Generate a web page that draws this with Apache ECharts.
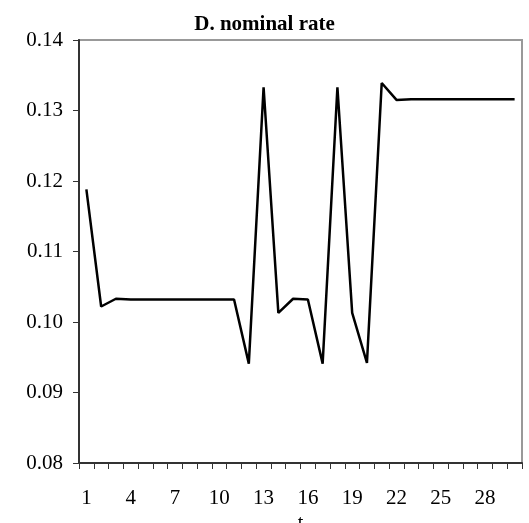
<!DOCTYPE html>
<html>
<head>
<meta charset="utf-8">
<script src="https://cdn.jsdelivr.net/npm/echarts@6/dist/echarts.min.js"></script>
<style>
  html, body { margin: 0; padding: 0; background: #fff; }
  #chart { width: 529px; height: 523px; }
</style>
</head>
<body>
<div id="chart"></div>
<script>
// Periods t = 1..30
const periods = Array.from({ length: 30 }, (_, i) => String(i + 1));

// Nominal interest rate per period
const nominalRate = [
  0.1188, 0.1022, 0.1033, 0.1032, 0.1032, 0.1032, 0.1032, 0.1032, 0.1032, 0.1032,
  0.1032, 0.0941, 0.1333, 0.1013, 0.1033, 0.1032, 0.0941, 0.1333, 0.1013, 0.0942,
  0.1339, 0.1315, 0.1316, 0.1316, 0.1316, 0.1316, 0.1316, 0.1316, 0.1316, 0.1316
];

// Vertical axis range
const yMin = 0.08;
const yMax = 0.14;
const yStep = 0.01;

const serif = '"Liberation Serif", "DejaVu Serif", serif';
const axisColor = '#333';

const chart = echarts.init(document.getElementById('chart'), null, { renderer: 'canvas' });

chart.setOption({
  animation: false,
  backgroundColor: '#fff',
  title: {
    text: 'D. nominal rate',
    left: 'center',
    top: 9,
    textStyle: { fontFamily: serif, fontWeight: 'bold', fontSize: 21, color: '#000' }
  },
  grid: {
    left: 79, right: 7, top: 40, bottom: 60,
    outerBoundsMode: 'none',
    containLabel: false,
    show: true,
    borderColor: '#999',
    borderWidth: 2,
    backgroundColor: 'transparent'
  },
  xAxis: {
    type: 'category',
    data: periods,
    boundaryGap: true,
    name: 't',
    nameLocation: 'middle',
    nameGap: 45,
    nameTextStyle: { fontFamily: serif, fontSize: 20, color: '#000' },
    axisLine: { lineStyle: { color: axisColor, width: 2 } },
    axisTick: { show: true, interval: 0, length: 6, lineStyle: { color: axisColor, width: 1 } },
    axisLabel: {
      interval: 2,
      margin: 25,
      fontFamily: serif,
      fontSize: 21,
      color: '#000'
    },
    splitLine: { show: false }
  },
  yAxis: {
    type: 'value',
    min: yMin,
    max: yMax,
    interval: yStep,
    axisLine: { show: true, lineStyle: { color: axisColor, width: 2 } },
    axisTick: { show: true, length: 6, lineStyle: { color: axisColor, width: 1 } },
    axisLabel: {
      margin: 16,
      fontFamily: serif,
      fontSize: 21,
      color: '#000',
      formatter: v => v.toFixed(2)
    },
    splitLine: { show: false }
  },
  series: [{
    type: 'line',
    data: nominalRate,
    showSymbol: false,
    symbol: 'none',
    lineStyle: { color: '#000', width: 2.5 },
    itemStyle: { color: '#000' }
  }]
});
</script>
</body>
</html>
